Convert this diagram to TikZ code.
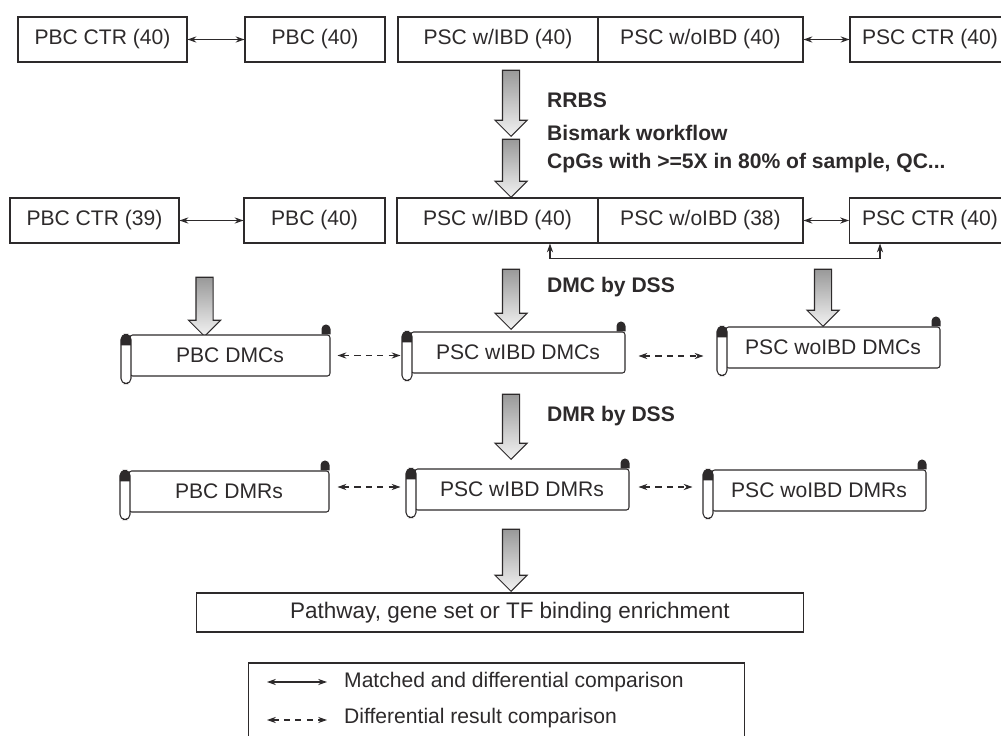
\documentclass[tikz,border=0pt]{standalone}
\usepackage{fontspec}
\setmainfont{Liberation Sans}
\usetikzlibrary{positioning}
\usetikzlibrary{shapes}
\usetikzlibrary{arrows.meta}
\definecolor{ink}{RGB}{45,42,43}
\tikzstyle{B} = [rectangle,draw=ink,line width=0.6pt,minimum height=0.9cm,inner sep=0pt]
\tikzstyle{S} = [rectangle,draw=ink,line width=0.6pt,fill=white,minimum height=0.82cm,minimum width=4.28cm,rounded corners=1.5pt]
\tikzstyle{G} = [single arrow,draw=ink,line width=0.6pt,shape border rotate=270,inner sep=0.16cm,minimum width=0.62cm,single arrow head extend=0.15cm,single arrow tip angle=90,top color=black!40,bottom color=black!5]
\tikzstyle{T} = [anchor=west,font=\fontsize{12}{14}\selectfont\bfseries]
\tikzstyle{mc} = [<->,draw=ink,line width=0.6pt]
\tikzstyle{dr} = [<->,draw=ink,line width=0.6pt,dash pattern=on 3.5pt off 3pt]
\tikzset{>={Stealth[length=5pt,width=3.5pt]}}
% rolled ends of a scroll node
\newcommand\rolls[1]{%
	\draw [ink,line width=0.6pt,fill=white,rounded corners=0.1cm] ([xshift=-0.17cm]#1.north west) rectangle ([xshift=0.03cm,yshift=-0.14cm]#1.south west);
	\fill [ink] ([xshift=-0.17cm,yshift=-0.22cm]#1.north west) -- ++(0cm,0.12cm) arc [start angle=180,end angle=0,radius=0.1cm] -- ++(0cm,-0.12cm) -- cycle;
	\fill [ink] ([xshift=-0.18cm]#1.north east) -- ++(0cm,0.11cm) arc [start angle=180,end angle=0,radius=0.09cm] -- ++(0cm,-0.11cm) -- cycle;
}

\begin{document}
\begin{tikzpicture}[x=0.02cm,y=0.02cm,font=\fontsize{12}{14}\selectfont,text=ink]
	\useasboundingbox (0,0) rectangle (1001,-736);
	
	\node [B,minimum width=3.38cm] (1) at (102.5,-39.5) {PBC CTR (40)};
	\node [B,minimum width=2.8cm] (2) at (315,-39.5) {PBC (40)};
	\node [B,minimum width=4cm] (3) at (498,-39.5) {PSC w/IBD (40)};
	\node [B,minimum width=4.1cm] (4) at (700.5,-39.5) {PSC w/oIBD (40)};
	\node [B,minimum width=3.2cm] (5) at (930,-39.5) {PSC CTR (40)};
	\draw [mc] (1) -- (2) ;
	\draw [mc] (4) -- (5) ;
	%%%%%%%%%%%%%%%
	\node [G,minimum height=1.32cm] (g1) at (511,-99) {};
	\node [G,minimum height=1.16cm] (g2) at (511,-164) {};
	\node [T] (t1) at (541,-100) {RRBS};
	\node [T] (t2) at (541,-133) {Bismark workflow};
	\node [T] (t3) at (541,-163) {CpGs with >=5X in 80\% of sample, QC...};
	%%%%%%%%%%%%%%%
	\node [B,minimum width=3.38cm] (1a) at (94.5,-220.5) {PBC CTR (39)};
	\node [B,minimum width=2.82cm] (2a) at (314.5,-220.5) {PBC (40)};
	\node [B,minimum width=4.02cm] (3a) at (497.5,-220.5) {PSC w/IBD (40)};
	\node [B,minimum width=4.1cm] (4a) at (700.5,-220.5) {PSC w/oIBD (38)};
	\node [B,minimum width=3.22cm] (5a) at (930,-220.5) {PSC CTR (40)};
	\draw [mc] (1a) -- (2a) ;
	\draw [mc] (4a) -- (5a) ;
	\draw [mc] ([xshift=1.05cm]3a.south) -- ++(0,-15) -| ([xshift=-1cm]5a.south) ;
	%%%%%%%%%%%%%%%
	\node [G,minimum height=1.18cm] (g3) at (204.5,-302.5) {};
	\node [G,minimum height=1.2cm] (g4) at (511,-295) {};
	\node [G,minimum height=1.14cm] (g5) at (823,-293.5) {};
	\node [T] (t4) at (541,-287) {DMC by DSS};
	\node [S,minimum width=4cm] (m1) at (230,-355.5) {PBC DMCs};
	\node [S] (m2) at (518,-352.5) {PSC wIBD DMCs};
	\node [S] (m3) at (833,-347.5) {PSC woIBD DMCs};
	\rolls{m1} \rolls{m2} \rolls{m3}
	\draw [dr] ([xshift=0.14cm]m1.east) -- ++(1.26cm,0) ;
	\draw [dr] ([xshift=0.26cm,yshift=-0.07cm]m2.east) -- ++(1.3cm,0) ;
	%%%%%%%%%%%%%%%
	\node [G,minimum height=1.3cm] (g6) at (511,-422.5) {};
	\node [T] (t5) at (541,-416) {DMR by DSS};
	\node [S,minimum width=4cm] (d1) at (229,-491.5) {PBC DMRs};
	\node [S] (d2) at (522,-489.5) {PSC wIBD DMRs};
	\node [S] (d3) at (819,-490.5) {PSC woIBD DMRs};
	\rolls{d1} \rolls{d2} \rolls{d3}
	\draw [dr] ([xshift=0.16cm,yshift=0.09cm]d1.east) -- ++(1.26cm,0) ;
	\draw [dr] ([xshift=0.18cm,yshift=0.05cm]d2.east) -- ++(1.08cm,0) ;
	%%%%%%%%%%%%%%%
	\node [G,minimum height=1.24cm] (g7) at (511,-556) {};
	\node [B,minimum width=12.16cm,minimum height=0.78cm,font=\fontsize{12.8}{15}\selectfont] (e) at (500,-612.5) {\hspace*{0.4cm}Pathway, gene set or TF binding enrichment};
	%%%%%%%%%%%%%%%
	\node [B,minimum width=9.94cm,minimum height=1.6cm] (leg) at (496.5,-703) {};
	\node [anchor=west] (l1) at (338,-682) {Matched and differential comparison};
	\node [anchor=west] (l2) at (338,-718) {Differential result comparison};
	\draw [mc] ([xshift=-1.42cm]l1.west) -- ([xshift=-0.22cm]l1.west) ;
	\draw [dr] ([xshift=-1.42cm,yshift=-0.04cm]l2.west) -- ([xshift=-0.22cm,yshift=-0.04cm]l2.west) ;
\end{tikzpicture}
\end{document}
